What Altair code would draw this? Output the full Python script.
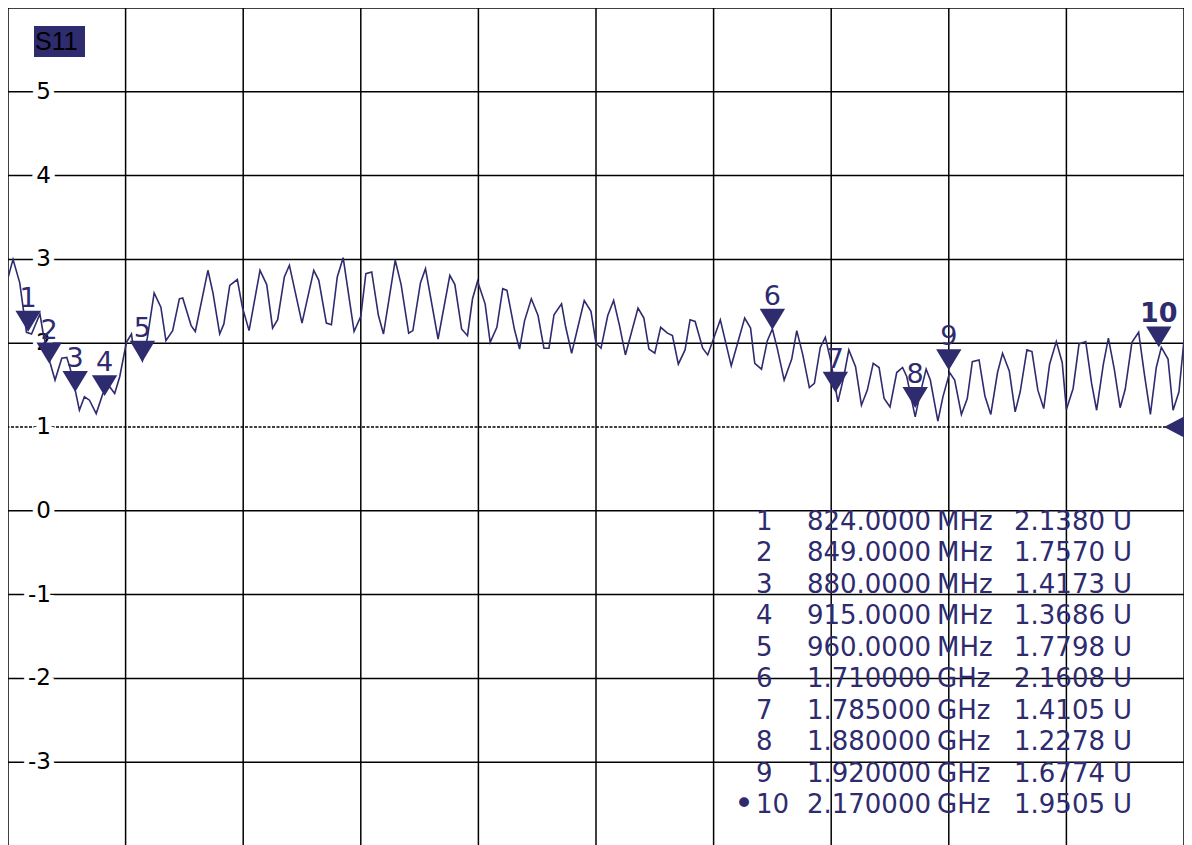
import altair as alt
import pandas as pd

# ---- trace (frequency in MHz, S11 in units) ----
freq_mhz = [800, 806, 814, 822, 828, 838, 842, 850, 856, 864,
            870, 874, 880, 885, 891, 897, 905, 913, 921, 927,
            933, 941, 947, 948, 960, 966, 974, 982, 988, 996,
            1004, 1008, 1018, 1023, 1038, 1044, 1052, 1057, 1064, 1073,
            1079, 1087, 1100, 1108, 1115, 1121, 1129, 1135, 1150, 1164,
            1170, 1179, 1185, 1192, 1199, 1212, 1220, 1226, 1233, 1241,
            1247, 1261, 1268, 1277, 1282, 1291, 1297, 1312, 1326, 1332,
            1340, 1347, 1353, 1359, 1368, 1374, 1382, 1389, 1394, 1403,
            1409, 1415, 1423, 1431, 1438, 1444, 1450, 1459, 1464, 1471,
            1486, 1494, 1500, 1506, 1514, 1521, 1528, 1535, 1550, 1557,
            1563, 1570, 1577, 1585, 1591, 1598, 1606, 1612, 1618, 1627,
            1633, 1648, 1661, 1677, 1684, 1689, 1697, 1704, 1710, 1716,
            1724, 1733, 1739, 1746, 1754, 1760, 1767, 1773, 1779, 1788,
            1795, 1801, 1809, 1816, 1823, 1830, 1837, 1843, 1850, 1858,
            1865, 1870, 1880, 1885, 1893, 1898, 1907, 1913, 1921, 1927,
            1935, 1942, 1948, 1956, 1963, 1970, 1978, 1984, 1992, 1999,
            2005, 2013, 2019, 2026, 2033, 2040, 2048, 2055, 2060, 2068,
            2075, 2083, 2090, 2096, 2104, 2110, 2117, 2124, 2130, 2138,
            2146, 2153, 2160, 2167, 2173, 2181, 2187, 2194, 2200]
s11_u = [2.78, 3.00, 2.72, 2.13, 2.11, 2.35, 2.11, 1.77, 1.56, 1.82,
         1.83, 1.70, 1.44, 1.20, 1.36, 1.32, 1.16, 1.40, 1.48, 1.40,
         1.60, 2.01, 2.11, 2.03, 1.79, 2.07, 2.60, 2.43, 2.03, 2.15,
         2.53, 2.54, 2.21, 2.14, 2.87, 2.60, 2.11, 2.23, 2.69, 2.76,
         2.43, 2.15, 2.87, 2.70, 2.18, 2.28, 2.79, 2.93, 2.24, 2.87,
         2.75, 2.24, 2.22, 2.79, 3.02, 2.14, 2.32, 2.83, 2.85, 2.33,
         2.11, 2.99, 2.70, 2.12, 2.15, 2.72, 2.89, 2.05, 2.81, 2.70,
         2.17, 2.09, 2.53, 2.74, 2.47, 2.01, 2.19, 2.65, 2.63, 2.16,
         1.93, 2.27, 2.53, 2.33, 1.94, 1.94, 2.34, 2.47, 2.19, 1.88,
         2.51, 2.38, 2.00, 1.94, 2.33, 2.51, 2.21, 1.86, 2.42, 2.30,
         1.93, 1.88, 2.19, 2.12, 2.09, 1.75, 1.92, 2.28, 2.26, 1.94,
         1.86, 2.28, 1.73, 2.30, 2.18, 1.76, 1.69, 2.03, 2.17, 1.93,
         1.56, 1.81, 2.15, 1.87, 1.47, 1.52, 1.95, 2.07, 1.81, 1.30,
         1.60, 1.92, 1.72, 1.26, 1.44, 1.76, 1.71, 1.34, 1.24, 1.65,
         1.71, 1.60, 1.12, 1.36, 1.69, 1.56, 1.07, 1.36, 1.65, 1.56,
         1.15, 1.34, 1.78, 1.80, 1.37, 1.15, 1.65, 1.88, 1.67, 1.18,
         1.42, 1.92, 1.90, 1.44, 1.22, 1.75, 2.02, 1.77, 1.21, 1.46,
         1.99, 2.02, 1.52, 1.20, 1.75, 2.06, 1.69, 1.23, 1.45, 2.01,
         2.13, 1.62, 1.15, 1.71, 1.95, 1.81, 1.20, 1.42, 2.04]

# ---- markers ----
marker_ids = ["1", "2", "3", "4", "5", "6", "7", "8", "9", "10"]
marker_freq = [824, 849, 880, 915, 960, 1710, 1785, 1880, 1920, 2170]
marker_val = [2.1380, 1.7570, 1.4173, 1.3686, 1.7798, 2.1608, 1.4105, 1.2278, 1.6774, 1.9505]
marker_active = [False] * 9 + [True]

# ---- marker table texts ----
table_freq_text = ["824.0000", "849.0000", "880.0000", "915.0000", "960.0000",
                   "1.710000", "1.785000", "1.880000", "1.920000", "2.170000"]
table_unit = ["MHz"] * 5 + ["GHz"] * 5
table_value_text = ["2.1380", "1.7570", "1.4173", "1.3686", "1.7798",
                    "2.1608", "1.4105", "1.2278", "1.6774", "1.9505"]
table_bullet = [""] * 9 + ["\u2022"]

# ---- axes / grid ----
y_ticks = [-3, -2, -1, 0, 1, 2, 3, 4, 5]
grid_y_solid = [-4, -3, -2, -1, 0, 2, 3, 4, 5, 6]
grid_y_ref = [1]
grid_x = [800, 940, 1080, 1220, 1360, 1500, 1640, 1780, 1920, 2060, 2200]
ref_level = [1]

NAVY = "#2e2b6e"
xs = alt.Scale(domain=[800, 2200], nice=False, zero=False)
ys = alt.Scale(domain=[-4, 6], nice=False, zero=False)

trace_df = pd.DataFrame({"f": freq_mhz, "v": s11_u})
mk_df = pd.DataFrame({"f": marker_freq, "v": marker_val, "id": marker_ids, "active": marker_active})
tbl_df = pd.DataFrame({"row": list(range(10)), "num": marker_ids, "freq": table_freq_text,
                       "unit": table_unit, "val": table_value_text, "bullet": table_bullet})

X = alt.X("f:Q", scale=xs, axis=None)
Y = alt.Y("v:Q", scale=ys, axis=None)

hgrid = alt.Chart(pd.DataFrame({"v": grid_y_solid})).mark_rule(color="black", strokeWidth=1.5).encode(y=Y)
vgrid = alt.Chart(pd.DataFrame({"f": grid_x})).mark_rule(color="black", strokeWidth=1.5).encode(x=X)
refline = alt.Chart(pd.DataFrame({"v": grid_y_ref})).mark_rule(
    color="black", strokeWidth=1.3, strokeDash=[3, 1.5]).encode(y=Y)

ylab_df = pd.DataFrame({"v": y_ticks, "t": [str(t) for t in y_ticks]})
ylab_halo = alt.Chart(ylab_df).mark_text(
    align="right", baseline="middle", font="DejaVu Sans", fontSize=23,
    color="white", stroke="white", strokeWidth=10).encode(x=alt.value(43), y=Y, text="t:N")
ylab = alt.Chart(ylab_df).mark_text(
    align="right", baseline="middle", font="DejaVu Sans", fontSize=23,
    color="black").encode(x=alt.value(43), y=Y, text="t:N")

TY = alt.Y("row:Q", scale=alt.Scale(domain=[0, 9], range=[514, 797]), axis=None)
tstyle = dict(baseline="middle", font="DejaVu Sans", fontSize=26, color=NAVY)
t_bullet = alt.Chart(tbl_df).mark_text(
    align="center", baseline="middle", font="DejaVu Sans", fontSize=34, color=NAVY
).encode(x=alt.value(736), y=TY, text="bullet:N")
t_num = alt.Chart(tbl_df).mark_text(align="left", **tstyle).encode(x=alt.value(748), y=TY, text="num:N")
t_freq = alt.Chart(tbl_df).mark_text(align="right", **tstyle).encode(x=alt.value(923), y=TY, text="freq:N")
t_unit = alt.Chart(tbl_df).mark_text(align="left", **tstyle).encode(x=alt.value(929), y=TY, text="unit:N")
t_val = alt.Chart(tbl_df).mark_text(align="left", **tstyle).encode(x=alt.value(1006), y=TY, text="val:N")
t_u = alt.Chart(tbl_df).mark_text(align="left", **tstyle).encode(x=alt.value(1105), y=TY, text=alt.value("U"))

trace = alt.Chart(trace_df).mark_line(color=NAVY, strokeWidth=1.6).encode(x=X, y=Y)

tri = alt.Chart(mk_df).mark_point(
    shape="M-1,-1.65L1,-1.65L0,0Z", filled=True, color=NAVY, opacity=1, size=645, strokeWidth=0
).encode(x=X, y=Y)
lab_style = dict(align="center", baseline="alphabetic", dy=-25, font="DejaVu Sans", fontSize=27, color=NAVY)
mk_lab = alt.Chart(mk_df).transform_filter("!datum.active").mark_text(
    fontWeight="normal", **lab_style).encode(x=X, y=Y, text="id:N")
mk_lab_active = alt.Chart(mk_df).transform_filter("datum.active").mark_text(
    fontWeight="bold", **lab_style).encode(x=X, y=Y, text="id:N")

ref_tri = alt.Chart(pd.DataFrame({"f": [2200], "v": ref_level})).mark_point(
    shape="M-1.9,0L0,-1L0,1Z", filled=True, color=NAVY, opacity=1, size=441, strokeWidth=0
).encode(x=X, y=Y)

s11_box = alt.Chart(pd.DataFrame({"a": [0]})).mark_rect(color=NAVY).encode(
    x=alt.value(26), x2=alt.value(77), y=alt.value(18), y2=alt.value(49))
s11_txt = alt.Chart(pd.DataFrame({"a": [0]})).mark_text(
    align="left", baseline="middle", font="Liberation Sans", fontSize=25, color="black"
).encode(x=alt.value(27), y=alt.value(34), text=alt.value("S11"))

chart = alt.layer(
    hgrid, vgrid, refline, ylab_halo, ylab,
    t_bullet, t_num, t_freq, t_unit, t_val, t_u,
    trace, tri, mk_lab, mk_lab_active, ref_tri, s11_box, s11_txt
).resolve_scale(y="independent").properties(
    width=1176, height=838, padding=0, background="white",
    autosize=alt.AutoSizeParams(type="none")
).configure_view(stroke=None)

chart.save("out.html", embed_options={"renderer": "svg", "actions": False})
